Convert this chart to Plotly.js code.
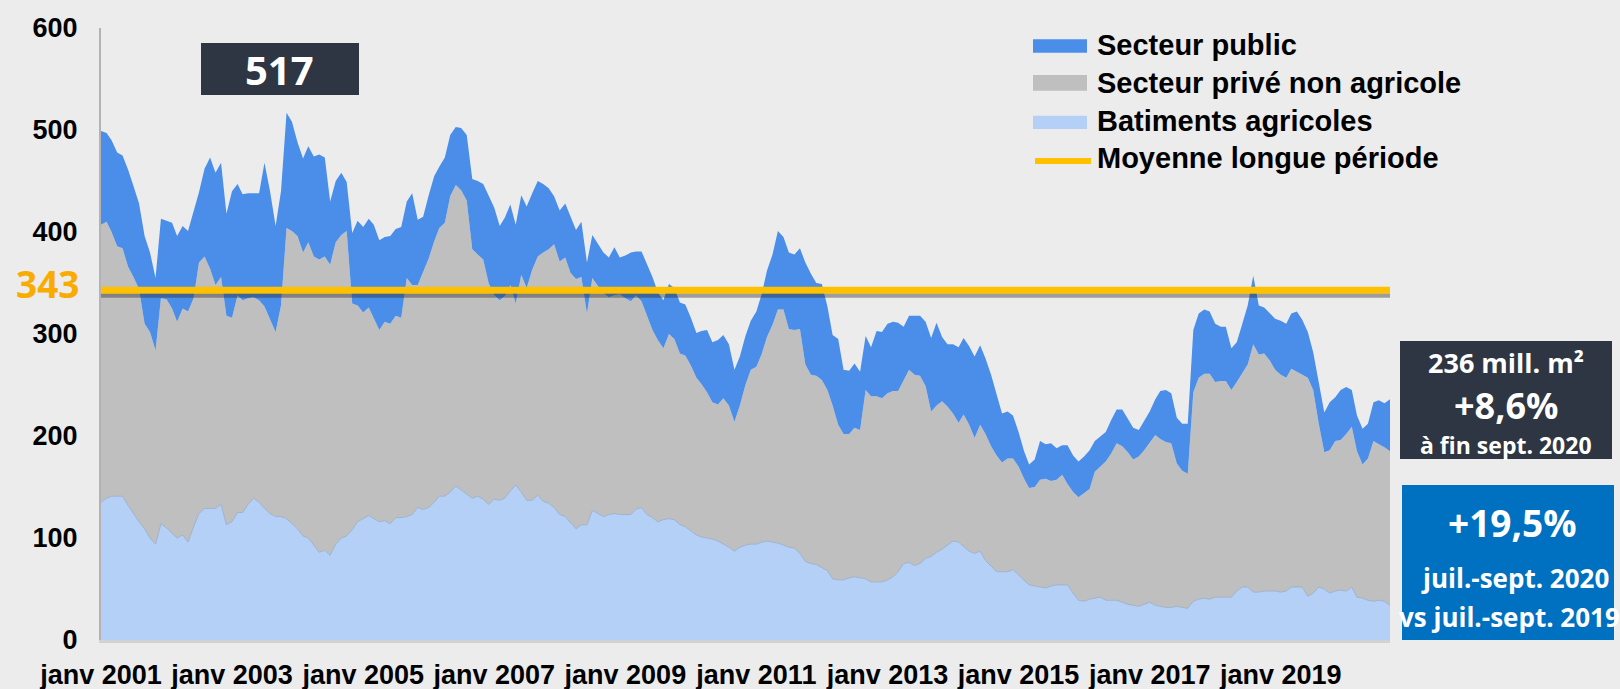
<!DOCTYPE html>
<html>
<head>
<meta charset="utf-8">
<script src="https://cdn.plot.ly/plotly-3.0.1.min.js"></script>
<style>
html, body { margin: 0; padding: 0; background: #ececec; }
#chart { width: 1620px; height: 689px; }
</style>
</head>
<body>
<div id="chart"></div>
<script>
// ---- Data (millions of m², monthly, janv 2001 -> sept 2020) ----
const startYear = 2001;
const startMonth = 1;

const batimentsAgricoles = [
  135,139,141,141,141,132,124,116,109,100,
  94,114,110,105,100,103,96,111,124,129,
  129,129,133,113,116,125,125,133,139,135,
  129,124,121,121,119,114,109,102,100,93,
  86,88,83,94,100,102,108,116,119,122,
  119,116,117,114,120,120,121,123,130,128,
  130,135,141,141,145,151,147,143,139,141,
  138,133,138,137,139,146,152,145,137,137,
  142,136,134,130,123,121,115,109,113,113,
  127,124,121,123,124,123,123,123,128,130,
  123,120,116,118,119,118,113,111,107,103,
  101,100,99,97,94,91,87,91,93,94,
  94,96,97,96,95,93,91,90,85,77,
  75,74,71,68,60,59,59,61,62,61,
  60,57,57,57,59,62,67,75,76,73,
  75,80,82,86,89,93,97,96,92,87,
  85,87,78,72,67,67,67,69,64,59,
  54,53,52,51,53,54,54,54,46,39,
  38,40,41,42,39,39,39,37,35,34,
  33,35,37,34,33,32,32,33,32,31,
  38,40,41,40,42,42,42,42,48,52,
  52,47,47,48,48,48,47,48,52,52,
  52,43,46,52,50,46,48,49,48,52,
  42,41,39,38,39,38,34
];

const secteurPriveNonAgricole = [
  272,271,259,245,243,234,232,228,201,202,
  190,221,224,220,212,222,226,224,246,247,
  235,219,223,205,200,213,208,202,197,198,
  198,191,181,207,285,287,287,278,290,283,
  287,288,285,296,297,299,222,212,202,204,
  197,188,195,196,198,196,234,225,218,232,
  244,256,263,268,290,295,294,288,244,237,
  235,217,200,196,198,202,178,213,208,226,
  234,244,249,258,248,254,245,245,243,207,
  228,223,219,213,214,216,212,209,210,202,
  195,184,178,168,181,177,168,168,162,154,
  150,143,134,134,143,139,127,139,157,171,
  174,185,200,213,229,231,214,214,220,193,
  185,185,184,177,170,152,143,141,146,145,
  185,182,182,180,183,182,177,180,189,187,
  184,169,142,144,145,136,125,117,129,124,
  113,124,124,118,114,107,111,109,106,99,
  95,97,105,107,103,103,108,99,99,101,
  106,108,124,128,136,144,154,153,149,143,
  147,151,156,167,164,162,161,140,134,132,
  205,217,220,221,211,212,212,203,205,210,
  218,243,233,233,226,217,213,209,214,211,
  208,214,199,160,134,140,147,147,154,157,
  143,131,139,157,153,151,151
];

const secteurPublic = [
  92,87,90,92,91,95,89,84,86,78,
  71,78,77,84,84,81,79,85,69,86,
  109,110,112,100,124,109,104,103,102,105,
  141,125,104,112,113,107,92,92,94,98,
  103,97,62,60,61,48,69,83,84,87,
  91,88,83,86,85,89,75,90,64,55,
  62,64,60,64,60,57,61,64,69,72,
  74,85,86,73,77,79,77,78,80,75,
  74,67,60,47,50,53,55,48,54,50,
  42,41,40,39,47,36,42,48,43,49,
  51,52,47,47,49,50,50,50,47,44,
  52,61,59,63,62,60,51,48,48,48,
  54,59,65,69,77,71,75,74,79,100,
  99,91,94,82,69,84,63,62,63,57,
  53,48,64,65,68,68,67,52,53,58,
  59,63,72,81,63,61,68,74,75,77,
  80,78,74,70,59,48,46,42,34,27,
  23,27,38,34,37,31,29,38,36,35,
  36,38,30,30,29,33,33,36,33,31,
  26,29,31,35,47,51,49,45,46,49,
  61,63,63,61,57,53,53,41,39,48,
  58,67,48,45,46,50,53,53,54,59,
  54,45,37,42,39,47,43,49,46,36,
  35,35,34,38,43,43,51
];

const moyenneLonguePeriode = 343;
const pic = 517;

const seriesNames = ['Secteur public', 'Secteur privé non agricole', 'Batiments agricoles', 'Moyenne longue période'];
const seriesColors = ['#4a8ee9', '#bfbfbf', '#b4d0f6', '#ffc000'];

const tickDates = ['2001-01-01','2003-01-01','2005-01-01','2007-01-01','2009-01-01',
                   '2011-01-01','2013-01-01','2015-01-01','2017-01-01','2019-01-01'];
const tickLabels = ['janv 2001','janv 2003','janv 2005','janv 2007','janv 2009',
                    'janv 2011','janv 2013','janv 2015','janv 2017','janv 2019'];
const yTicks = [0, 100, 200, 300, 400, 500, 600];

const boxCumul = ['236 mill. m²', '+8,6%', 'à fin sept. 2020'];
const boxTrim = ['+19,5%', 'juil.-sept. 2020', 'vs juil.-sept. 2019'];

// month categories
const months = batimentsAgricoles.map((_, i) => {
  const k = startMonth - 1 + i;
  const y = startYear + Math.floor(k / 12);
  const m = (k % 12) + 1;
  return y + '-' + String(m).padStart(2, '0') + '-01';
});
const firstMonth = months[0];
const lastMonth = months[months.length - 1];

// ---- Layout helpers (pixel -> paper) ----
const W = 1620, H = 689;
const M = { l: 101, r: 230, t: 28, b: 49 };
const PW = W - M.l - M.r, PH = H - M.t - M.b;
const px = x => (x - M.l) / PW;
const py = y => (H - M.b - y) / PH;

const FONT = 'Liberation Sans, Arial, Helvetica, sans-serif';
const OPEN = 'Open Sans, Noto Sans, sans-serif';

const traces = [
  {
    x: months, y: batimentsAgricoles, name: seriesNames[2], type: 'scatter', mode: 'lines',
    stackgroup: 'one', fillcolor: seriesColors[2], line: { color: '#9fb3cb', width: 1 },
    showlegend: false, hoverinfo: 'skip'
  },
  {
    x: months, y: secteurPriveNonAgricole, name: seriesNames[1], type: 'scatter', mode: 'lines',
    stackgroup: 'one', fillcolor: seriesColors[1], line: { color: seriesColors[1], width: 0 },
    showlegend: false, hoverinfo: 'skip'
  },
  {
    x: months, y: secteurPublic, name: seriesNames[0], type: 'scatter', mode: 'lines',
    stackgroup: 'one', fillcolor: seriesColors[0], line: { color: seriesColors[0], width: 0 },
    showlegend: false, hoverinfo: 'skip'
  },
  {
    x: [firstMonth, lastMonth], y: [moyenneLonguePeriode, moyenneLonguePeriode],
    name: seriesNames[3], type: 'scatter', mode: 'lines',
    line: { color: seriesColors[3], width: 7 }, showlegend: false, hoverinfo: 'skip'
  }
];

const shapes = [
  // shadow under the average line
  { type: 'line', xref: 'x', yref: 'y', x0: firstMonth, x1: lastMonth,
    ysizemode: 'pixel', yanchor: moyenneLonguePeriode, y0: -5.5, y1: -5.5,
    line: { color: 'rgba(40,40,40,0.40)', width: 4 }, layer: 'above' },
  // 517 box
  { type: 'rect', xref: 'paper', yref: 'paper', x0: px(201), x1: px(359), y0: py(95), y1: py(43),
    fillcolor: '#2d3642', line: { width: 0 } },
  // right boxes
  { type: 'rect', xref: 'paper', yref: 'paper', x0: px(1400), x1: px(1612), y0: py(459), y1: py(341),
    fillcolor: '#2d3642', line: { width: 0 } },
  { type: 'rect', xref: 'paper', yref: 'paper', x0: px(1402), x1: px(1614), y0: py(640), y1: py(485),
    fillcolor: '#0070c0', line: { width: 0 } },
  // legend swatches
  { type: 'rect', xref: 'paper', yref: 'paper', x0: px(1033), x1: px(1087), y0: py(52.7), y1: py(39.3),
    fillcolor: seriesColors[0], line: { width: 0 } },
  { type: 'rect', xref: 'paper', yref: 'paper', x0: px(1033), x1: px(1087), y0: py(90.7), y1: py(75),
    fillcolor: seriesColors[1], line: { width: 0 } },
  { type: 'rect', xref: 'paper', yref: 'paper', x0: px(1033), x1: px(1087), y0: py(129), y1: py(115.7),
    fillcolor: seriesColors[2], line: { width: 0 } },
  { type: 'line', xref: 'paper', yref: 'paper', x0: px(1035), x1: px(1091), y0: py(161), y1: py(161),
    line: { color: seriesColors[3], width: 6 } }
];

const legendY = [45, 83, 121, 158];
const annotations = [];
seriesNames.forEach((n, i) => {
  annotations.push({
    xref: 'paper', yref: 'paper', x: px(1095), y: py(legendY[i]), xanchor: 'left', yanchor: 'middle',
    text: n, showarrow: false, font: { family: FONT, size: 29, color: '#000', weight: 'bold' }
  });
});
annotations.push(
  { xref: 'paper', yref: 'paper', x: px(279), y: py(70), xanchor: 'center', yanchor: 'middle',
    text: String(pic), showarrow: false, font: { family: OPEN, size: 40, color: '#ffffff', weight: 'bold' } },
  { xref: 'paper', yref: 'y', x: px(47), y: moyenneLonguePeriode, yshift: 7, xanchor: 'center', yanchor: 'middle',
    text: String(moyenneLonguePeriode), showarrow: false, font: { family: OPEN, size: 37, color: '#f9ab00', weight: 'bold' } },
  { xref: 'paper', yref: 'paper', x: px(1506), y: py(362), xanchor: 'center', yanchor: 'middle',
    text: boxCumul[0], showarrow: false, font: { family: OPEN, size: 27, color: '#ffffff', weight: 'bold' } },
  { xref: 'paper', yref: 'paper', x: px(1506), y: py(405), xanchor: 'center', yanchor: 'middle',
    text: boxCumul[1], showarrow: false, font: { family: OPEN, size: 36, color: '#ffffff', weight: 'bold' } },
  { xref: 'paper', yref: 'paper', x: px(1506), y: py(445), xanchor: 'center', yanchor: 'middle',
    text: boxCumul[2], showarrow: false, font: { family: OPEN, size: 23, color: '#ffffff', weight: 'bold' } },
  { xref: 'paper', yref: 'paper', x: px(1513), y: py(522), xanchor: 'center', yanchor: 'middle',
    text: boxTrim[0], showarrow: false, font: { family: OPEN, size: 37, color: '#ffffff', weight: 'bold' } },
  { xref: 'paper', yref: 'paper', x: px(1515), y: py(578), xanchor: 'center', yanchor: 'middle',
    text: boxTrim[1], showarrow: false, font: { family: OPEN, size: 26, color: '#ffffff', weight: 'bold' } },
  { xref: 'paper', yref: 'paper', x: px(1397), y: py(617), xanchor: 'left', yanchor: 'middle',
    text: boxTrim[2], showarrow: false, font: { family: OPEN, size: 26, color: '#ffffff', weight: 'bold' } }
);

const layout = {
  width: W, height: H,
  margin: M,
  paper_bgcolor: '#ececec',
  plot_bgcolor: '#ececec',
  font: { family: FONT, color: '#000' },
  showlegend: false,
  hovermode: false,
  xaxis: {
    type: 'date',
    range: [firstMonth, lastMonth],
    tickmode: 'array', tickvals: tickDates, ticktext: tickLabels,
    tickfont: { family: FONT, size: 27, color: '#000', weight: 'bold' },
    ticks: '', showgrid: false, zeroline: false,
    showline: true, linecolor: '#d2d2d2', linewidth: 3,
    ticklabelstandoff: 9
  },
  yaxis: {
    range: [0, 600],
    tickmode: 'array', tickvals: yTicks, ticktext: yTicks.map(String),
    tickfont: { family: FONT, size: 27, color: '#000', weight: 'bold' },
    ticks: '', showgrid: false, zeroline: false,
    showline: true, linecolor: '#b3b3b3', linewidth: 2,
    ticklabelstandoff: 16
  },
  shapes: shapes,
  annotations: annotations
};

Plotly.newPlot('chart', traces, layout, { displayModeBar: false, staticPlot: true });
</script>
</body>
</html>
